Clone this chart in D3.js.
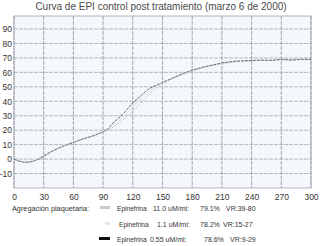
<!DOCTYPE html>
<html>
<head>
<meta charset="utf-8">
<script src="https://cdn.jsdelivr.net/npm/d3@7"></script>
<style>
  body { margin: 0; background: #fff; }
  svg { font-family: "Liberation Sans", Arial, sans-serif; }
</style>
</head>
<body>
<div id="chart"></div>
<script>
// tiempo (s) y % de agregacion
const times = [0, 5, 10, 15, 20, 25, 30, 40, 50, 60, 70, 80, 90, 95, 100, 105, 110, 115, 120, 125, 130, 135, 140, 150, 160, 170, 180, 190, 200, 210, 220, 230, 240, 250, 260, 270, 280, 290, 300];
const epi055 = [0, -1.5, -2.2, -2.2, -1.5, 0, 2, 6, 9, 11.5, 14, 16, 19, 21, 25, 28, 31, 35, 39, 42, 45, 48, 50, 53, 56, 59, 61.5, 63.5, 65, 66.5, 67.5, 68, 68.2, 68.5, 68.3, 69, 68.5, 69, 69];
const epi11 = [0, -1.2, -2, -2, -1.3, 0.2, 2.2, 6, 9.2, 11.7, 14, 16.2, 18.5, 20, 22, 24.5, 27, 30, 33, 36.5, 40, 44, 47.5, 52, 55.5, 58.5, 61, 63, 64.8, 66, 67, 67.6, 68, 68.3, 68.4, 68.6, 68.6, 68.8, 68.8];
const epi1_1 = [0, -1, -1.8, -1.8, -1, 0.4, 2.4, 6.2, 9.4, 12, 14.2, 16.4, 18.8, 20.5, 23, 26, 29, 32.5, 36, 40, 43.5, 46.5, 49, 52.5, 55.8, 58.8, 61.2, 63.2, 64.9, 66.2, 67.2, 67.8, 68.1, 68.4, 68.5, 68.7, 68.7, 68.9, 68.9];

const xTicks = [0, 30, 60, 90, 120, 150, 180, 210, 240, 270, 300];
const yTicks = [-10, 0, 10, 20, 30, 40, 50, 60, 70, 80, 90];

const title = "Curva de EPI control post tratamiento (marzo 6 de 2000)";
const legendTitle = "Agregación plaquetaria:";
const legendNames = ["Epinefrina", "Epinefrina", "Epinefrina"];
const legendDoses = ["11.0 uM/ml:", "1.1 uM/ml:", "0.55 uM/ml:"];
const legendPct = ["79.1%", "78.2%", "78.6%"];
const legendVR = ["VR:39-80", "VR:15-27", "VR:9-29"];

const width = 320, height = 246;
const margin = { top: 16, right: 9, bottom: 58, left: 14 };

const x = d3.scaleLinear().domain([0, 300]).range([margin.left, width - margin.right]);
const y = d3.scaleLinear().domain([-20, 99]).range([height - margin.bottom, margin.top]);

const svg = d3.select("#chart").append("svg")
  .attr("width", width)
  .attr("height", height);

// titulo
svg.append("text")
  .attr("x", 161).attr("y", 10)
  .attr("text-anchor", "middle")
  .attr("font-size", 10)
  .attr("fill", "#4a4a4a")
  .text(title);

// fondo del area de grafico
svg.append("rect")
  .attr("x", x(0)).attr("y", y(99))
  .attr("width", x(300) - x(0))
  .attr("height", y(-20) - y(99))
  .attr("fill", "#f4f7fb");

// rejilla
svg.append("g").selectAll("line").data(yTicks)
  .join("line")
  .attr("x1", x(0)).attr("x2", x(300))
  .attr("y1", d => y(d)).attr("y2", d => y(d))
  .attr("stroke", "#a4a8ae")
  .attr("stroke-width", 0.8)
  .attr("stroke-dasharray", "4,1");

svg.append("g").selectAll("line").data(xTicks)
  .join("line")
  .attr("x1", d => x(d)).attr("x2", d => x(d))
  .attr("y1", y(99)).attr("y2", y(-20))
  .attr("stroke", "#8e939a")
  .attr("stroke-width", 0.8)
  .attr("stroke-dasharray", "4,1");

// borde
svg.append("rect")
  .attr("x", x(0)).attr("y", y(99))
  .attr("width", x(300) - x(0))
  .attr("height", y(-20) - y(99))
  .attr("fill", "none")
  .attr("stroke", "#a0a4aa")
  .attr("stroke-width", 0.8);

// ejes (solo etiquetas)
const xAxis = svg.append("g")
  .attr("transform", `translate(0, ${y(-20)})`)
  .call(d3.axisBottom(x).tickValues(xTicks).tickSize(0).tickPadding(6));
const yAxis = svg.append("g")
  .attr("transform", `translate(${x(0) - 1}, 0)`)
  .call(d3.axisLeft(y).tickValues(yTicks).tickFormat(d => String(d)).tickSize(0).tickPadding(1));
[xAxis, yAxis].forEach(a => {
  a.select(".domain").remove();
  a.selectAll("text").attr("font-size", 8.5).attr("fill", "#333").attr("font-family", "Liberation Sans, Arial, sans-serif");
});

// curvas
const line = d3.line()
  .x(d => x(d[0]))
  .y(d => y(d[1]));

const series = [
  { values: epi1_1, color: "#e2e4e6", dash: null, width: 1 },
  { values: epi11, color: "#c4c7cb", dash: "2,1.5", width: 1 },
  { values: epi055, color: "#6c7076", dash: "3,1", width: 1 }
];

svg.append("g").selectAll("path").data(series)
  .join("path")
  .attr("d", s => line(times.map((t, i) => [t, s.values[i]])))
  .attr("fill", "none")
  .attr("stroke", s => s.color)
  .attr("stroke-width", s => s.width)
  .attr("stroke-dasharray", s => s.dash);

// leyenda
const fs = 7;
svg.append("text")
  .attr("x", 12).attr("y", 211)
  .attr("font-size", 7.3)
  .attr("fill", "#333")
  .text(legendTitle);

const swatchColors = ["#c8cacc", "#e6e7e8", "#111"];
const rowY = [211, 227, 242];
const swX = [100, 105, 99];

const rows = svg.append("g").selectAll("g").data(d3.range(3))
  .join("g")
  .attr("transform", i => `translate(0, ${rowY[i]})`);

rows.append("rect")
  .attr("x", i => swX[i]).attr("y", -5)
  .attr("width", i => 110 - swX[i]).attr("height", 3)
  .attr("fill", i => swatchColors[i]);

rows.append("text")
  .attr("x", i => i === 1 ? 119 : 117)
  .attr("font-size", 6.6).attr("fill", "#333")
  .text(i => legendNames[i]);
rows.append("text")
  .attr("x", i => [153, 157, 150][i])
  .attr("font-size", fs).attr("fill", "#333")
  .text(i => legendDoses[i]);
rows.append("text")
  .attr("x", i => [200, 200, 204][i])
  .attr("font-size", fs).attr("fill", "#333")
  .text(i => legendPct[i]);
rows.append("text")
  .attr("x", i => [226, 223, 230][i])
  .attr("font-size", fs).attr("fill", "#333")
  .text(i => legendVR[i]);
</script>
</body>
</html>
